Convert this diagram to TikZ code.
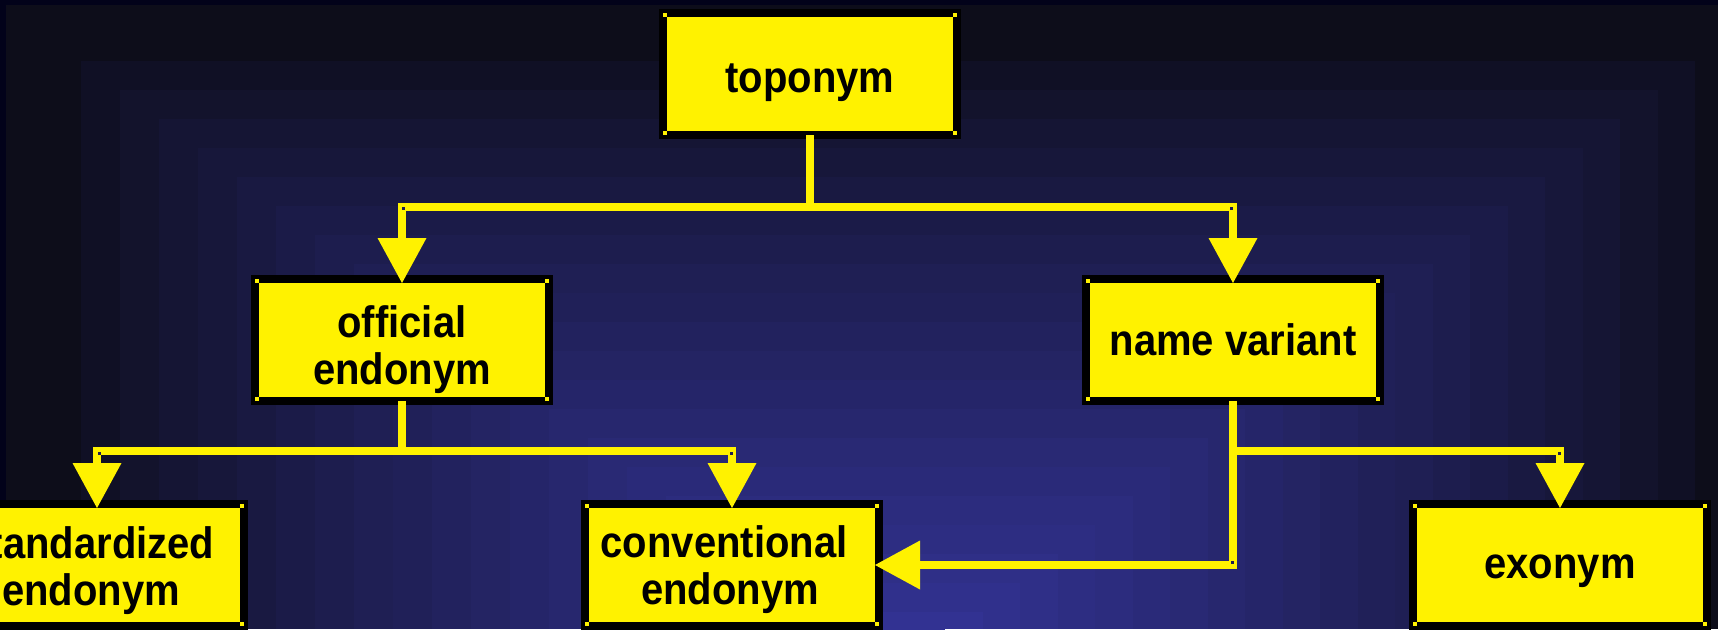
\documentclass[tikz,border=0pt]{standalone}
\usepackage{fontspec}
\usepackage{graphicx}
\setmainfont{Liberation Sans}
\usetikzlibrary{arrows.meta}
\definecolor{ylw}{RGB}{255,242,0}
\definecolor{bge}{RGB}{13,13,26}
\definecolor{bgc}{RGB}{50,50,146}
\definecolor{bgf}{RGB}{2,2,26}
\definecolor{dotc}{RGB}{30,30,80}
\newcommand\boxtext[2]{\raisebox{#1}[0pt][0pt]{\scalebox{1}[1.1]{\begin{tabular}[t]{@{}c@{}}#2\end{tabular}}}}
\begin{document}
\begin{tikzpicture}[x=1pt,y=-1pt,
  box/.style={draw=black, fill=ylw, line width=8pt, minimum width=294pt, minimum height=122pt,
    inner sep=0pt, outer sep=0pt, font=\fontsize{40}{43}\selectfont\bfseries},
  conn/.style={draw=ylw, line width=8pt},
  arr/.style={conn, -{Triangle[width=49pt,length=45pt,line width=0pt]}, shorten >=-4pt},
  handle/.style={fill=ylw},
  bendmark/.style={fill=dotc}]
\useasboundingbox (0,0) rectangle (1718,629);
% background
\fill[bgf] (0,0) rectangle (1718,629);
\fill[bge] (6,5) rectangle (1718,629);
\foreach \i in {1,...,21} {
  \pgfmathsetmacro\l{81+39*(\i-1)}
  \pgfmathsetmacro\t{61+29*(\i-1)}
  \pgfmathsetmacro\r{1695-37.5*(\i-1)}
  \pgfmathtruncatemacro\p{min(100,100*(\i/20)^0.8)}
  \fill[bgc!\p!bge] (\l,\t) rectangle (\r,629);
}
% boxes
\node[box] (top) at (810,74) {\boxtext{-18pt}{toponym}};
\node[box] (off) at (402,340) {\boxtext{3pt}{official\\endonym}};
\node[box] (nv) at (1233,340) {\boxtext{-15pt}{name variant}};
\node[box] (std) at (97,565) {\boxtext{7pt}{standardized\kern12pt\\endonym\kern12pt}};
\node[box] (conv) at (732,565) {\boxtext{8pt}{conventional\kern16pt\\endonym\kern4pt}};
\node[box] (exo) at (1560,565) {\boxtext{-13pt}{exonym}};
% connectors
\coordinate (j1) at (810,207);
\coordinate (j2) at (402,451);
\coordinate (j3) at (1233,451);
\draw[conn] (top) -- (j1);
\draw[arr] (j1) -| (off);
\draw[arr] (j1) -| (nv);
\draw[conn] (off) -- (j2);
\draw[arr] (j2) -| (std);
\draw[arr] (j2) -| (conv);
\draw[arr] (nv) |- (conv);
\draw[arr] (j3) -| (exo);
% bend marks
\fill[bendmark] (403,208) +(-1.5,-1.5) rectangle +(1.5,1.5);
\fill[bendmark] (1231,208) +(-1.5,-1.5) rectangle +(1.5,1.5);
\fill[bendmark] (99,453) +(-1.5,-1.5) rectangle +(1.5,1.5);
\fill[bendmark] (731,453) +(-1.5,-1.5) rectangle +(1.5,1.5);
\fill[bendmark] (1559,453) +(-1.5,-1.5) rectangle +(1.5,1.5);
\fill[bendmark] (1232,562) +(-1.5,-1.5) rectangle +(1.5,1.5);
% corner handles
\foreach \n in {top,off,nv,std,conv,exo} {
  \fill[handle] ([shift={(2,2)}]\n.north west) +(-2,-2) rectangle +(2,2);
  \fill[handle] ([shift={(-2,2)}]\n.north east) +(-2,-2) rectangle +(2,2);
  \fill[handle] ([shift={(2,-2)}]\n.south west) +(-2,-2) rectangle +(2,2);
  \fill[handle] ([shift={(-2,-2)}]\n.south east) +(-2,-2) rectangle +(2,2);
}
\end{tikzpicture}
\end{document}
